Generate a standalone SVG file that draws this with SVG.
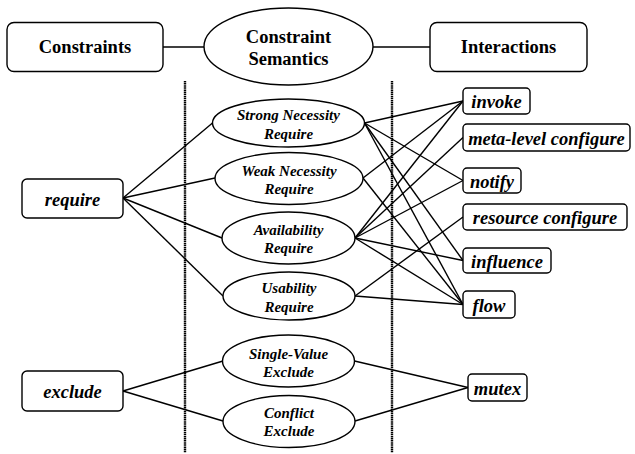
<svg xmlns="http://www.w3.org/2000/svg" width="635" height="454" viewBox="0 0 635 454">
  <style>
    .box { fill: #fff; stroke: #000; stroke-width: 1.4; }
    .ell { fill: #fff; stroke: #000; stroke-width: 1.4; }
    .edge { stroke: #000; stroke-width: 1.4; fill: none; }
    .sep { stroke: #000; stroke-width: 2.4; stroke-dasharray: 1.5 0.6; fill: none; }
    .hdr { font-family: "Liberation Serif", "Times New Roman", serif; font-weight: bold; font-size: 18.5px; text-anchor: middle; }
    .lbl { font-family: "Liberation Serif", "Times New Roman", serif; font-weight: bold; font-style: italic; font-size: 18.5px; text-anchor: middle; }
    .sem { font-family: "Liberation Serif", "Times New Roman", serif; font-weight: bold; font-style: italic; font-size: 15px; text-anchor: middle; }
  </style>
  <rect width="635" height="454" fill="#fff"/>

  <!-- column separators -->
  <g id="separators">
    <line class="sep" x1="185" y1="81" x2="185" y2="453"/>
    <line class="sep" x1="392" y1="81" x2="392" y2="453"/>
  </g>

  <!-- connectors -->
  <g id="connectors">
    <line class="edge" x1="163" y1="47" x2="204" y2="47"/>
    <line class="edge" x1="373" y1="47" x2="430" y2="47"/>

    <!-- require -> semantics -->
    <line class="edge" x1="123" y1="198" x2="212.5" y2="123"/>
    <line class="edge" x1="123" y1="198" x2="215" y2="178"/>
    <line class="edge" x1="123" y1="198" x2="222" y2="238"/>
    <line class="edge" x1="123" y1="198" x2="223" y2="296"/>

    <!-- exclude -> semantics -->
    <line class="edge" x1="123" y1="391" x2="223" y2="361"/>
    <line class="edge" x1="123" y1="391" x2="223" y2="421"/>

    <!-- Strong Necessity Require -->
    <line class="edge" x1="364.5" y1="123" x2="463" y2="101"/>
    <line class="edge" x1="364.5" y1="123" x2="463" y2="180.5"/>
    <line class="edge" x1="364.5" y1="123" x2="463" y2="260.5"/>
    <line class="edge" x1="364.5" y1="123" x2="463" y2="304.5"/>

    <!-- Weak Necessity Require -->
    <line class="edge" x1="363" y1="178" x2="463" y2="101"/>
    <line class="edge" x1="363" y1="178" x2="463" y2="304.5"/>

    <!-- Availability Require -->
    <line class="edge" x1="355" y1="238" x2="463" y2="101"/>
    <line class="edge" x1="355" y1="238" x2="463" y2="137.5"/>
    <line class="edge" x1="355" y1="238" x2="463" y2="180.5"/>
    <line class="edge" x1="355" y1="238" x2="463" y2="260.5"/>
    <line class="edge" x1="355" y1="238" x2="463" y2="304.5"/>

    <!-- Usability Require -->
    <line class="edge" x1="355" y1="296" x2="463" y2="217"/>
    <line class="edge" x1="355" y1="296" x2="463" y2="304.5"/>

    <!-- exclude semantics -> mutex -->
    <line class="edge" x1="354.5" y1="361" x2="468" y2="387.5"/>
    <line class="edge" x1="355" y1="421" x2="468" y2="387.5"/>
  </g>

  <!-- header row -->
  <g id="constraints">
    <rect class="box" x="7" y="22.5" width="156" height="49" rx="7"/>
    <text class="hdr" x="85" y="53">Constraints</text>
  </g>
  <g id="constraint-semantics">
    <ellipse class="ell" cx="288.5" cy="46.5" rx="84.5" ry="38.5"/>
    <text class="hdr" x="288.5" y="43">Constraint</text>
    <text class="hdr" x="288.5" y="65">Semantics</text>
  </g>
  <g id="interactions">
    <rect class="box" x="430" y="22.5" width="157" height="49" rx="7"/>
    <text class="hdr" x="508.5" y="53">Interactions</text>
  </g>

  <!-- constraints -->
  <g id="require">
    <rect class="box" x="22" y="179" width="101" height="39" rx="5"/>
    <text class="lbl" x="72.5" y="206">require</text>
  </g>
  <g id="exclude">
    <rect class="box" x="22" y="371" width="101" height="40" rx="5"/>
    <text class="lbl" x="72.5" y="398">exclude</text>
  </g>

  <!-- semantics -->
  <g id="strong-necessity-require">
    <ellipse class="ell" cx="288.5" cy="123" rx="76" ry="24"/>
    <text class="sem" x="288.5" y="120">Strong Necessity</text>
    <text class="sem" x="288.5" y="139">Require</text>
  </g>
  <g id="weak-necessity-require">
    <ellipse class="ell" cx="289" cy="178.5" rx="74" ry="26"/>
    <text class="sem" x="289" y="176">Weak Necessity</text>
    <text class="sem" x="289" y="194">Require</text>
  </g>
  <g id="availability-require">
    <ellipse class="ell" cx="288.5" cy="238" rx="66.5" ry="26"/>
    <text class="sem" x="288.5" y="235">Availability</text>
    <text class="sem" x="288.5" y="253">Require</text>
  </g>
  <g id="usability-require">
    <ellipse class="ell" cx="289" cy="296" rx="66" ry="24"/>
    <text class="sem" x="289" y="293">Usability</text>
    <text class="sem" x="289" y="312">Require</text>
  </g>
  <g id="single-value-exclude">
    <ellipse class="ell" cx="288.5" cy="361" rx="66" ry="26"/>
    <text class="sem" x="288.5" y="359">Single-Value</text>
    <text class="sem" x="288.5" y="377">Exclude</text>
  </g>
  <g id="conflict-exclude">
    <ellipse class="ell" cx="289" cy="421.5" rx="66" ry="26"/>
    <text class="sem" x="289" y="418">Conflict</text>
    <text class="sem" x="289" y="436">Exclude</text>
  </g>

  <!-- interactions -->
  <g id="invoke">
    <rect class="box" x="463" y="88" width="67" height="26" rx="4"/>
    <text class="lbl" x="496.5" y="108">invoke</text>
  </g>
  <g id="meta-level-configure">
    <rect class="box" x="463" y="124" width="167" height="27" rx="4"/>
    <text class="lbl" x="546.5" y="144.5">meta-level configure</text>
  </g>
  <g id="notify">
    <rect class="box" x="463" y="168" width="58" height="25" rx="4"/>
    <text class="lbl" x="492" y="187.5">notify</text>
  </g>
  <g id="resource-configure">
    <rect class="box" x="463" y="204" width="164" height="26" rx="4"/>
    <text class="lbl" x="545" y="224">resource configure</text>
  </g>
  <g id="influence">
    <rect class="box" x="463" y="248" width="88" height="25" rx="4"/>
    <text class="lbl" x="507" y="267.5">influence</text>
  </g>
  <g id="flow">
    <rect class="box" x="463" y="291" width="52" height="27" rx="4"/>
    <text class="lbl" x="489" y="311.5">flow</text>
  </g>
  <g id="mutex">
    <rect class="box" x="468" y="374" width="59" height="27" rx="4"/>
    <text class="lbl" x="497.5" y="394.5">mutex</text>
  </g>
</svg>
